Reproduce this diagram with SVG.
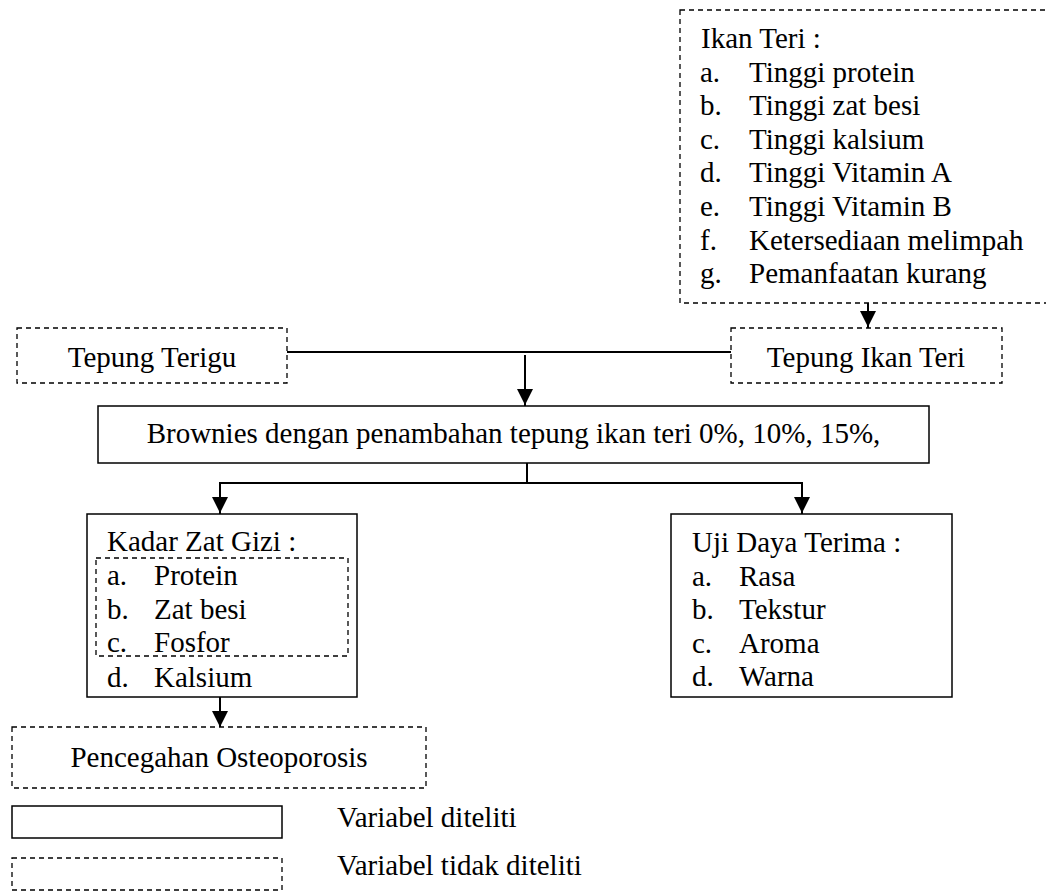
<svg xmlns="http://www.w3.org/2000/svg" width="1046" height="891" viewBox="0 0 1046 891">
<style>
text{font-family:"Liberation Serif","Times New Roman",serif;font-size:29px;fill:#000}
.solid{fill:#fff;stroke:#000;stroke-width:1.5}
.dash{fill:none;stroke:#000;stroke-width:1.3;stroke-dasharray:5 4}
.dashw{fill:#fff;stroke:#000;stroke-width:1.3;stroke-dasharray:5 4}
.ln{fill:none;stroke:#000;stroke-width:2;stroke-linecap:square}
.mid{text-anchor:middle}
</style>
<defs>
<marker id="ah" markerUnits="userSpaceOnUse" markerWidth="16" markerHeight="16" viewBox="0 0 16 16" refX="16" refY="8" orient="auto">
<path d="M0,0 L16,8 L0,16 Z" fill="#000"/>
</marker>
</defs>
<rect width="1046" height="891" fill="#fff"/>
<g id="connectors">
<line class="ln" x1="868" y1="304" x2="868" y2="327" marker-end="url(#ah)"/>
<line class="ln" x1="288" y1="352" x2="730" y2="352"/>
<line class="ln" x1="525" y1="356" x2="525" y2="405" marker-end="url(#ah)"/>
<line class="ln" x1="527" y1="464" x2="527" y2="483"/>
<line class="ln" x1="220" y1="483" x2="802" y2="483"/>
<line class="ln" x1="220" y1="483" x2="220" y2="513" marker-end="url(#ah)"/>
<line class="ln" x1="802" y1="483" x2="802" y2="513" marker-end="url(#ah)"/>
<line class="ln" x1="220" y1="698" x2="220" y2="727" marker-end="url(#ah)"/>
</g>
<g id="ikan-teri">
<rect class="dashw" x="680" y="10" width="380" height="293"/>
<text x="701" y="48">Ikan Teri :</text>
<text x="700" y="81.6">a.</text><text x="749" y="81.6">Tinggi protein</text>
<text x="700" y="115.2">b.</text><text x="749" y="115.2">Tinggi zat besi</text>
<text x="700" y="148.8">c.</text><text x="749" y="148.8">Tinggi kalsium</text>
<text x="700" y="182.4">d.</text><text x="749" y="182.4">Tinggi Vitamin A</text>
<text x="700" y="216">e.</text><text x="749" y="216">Tinggi Vitamin B</text>
<text x="700" y="249.6">f.</text><text x="749" y="249.6">Ketersediaan melimpah</text>
<text x="700" y="283.2">g.</text><text x="749" y="283.2">Pemanfaatan kurang</text>
</g>
<g id="tepung-terigu">
<rect class="dashw" x="17" y="328" width="270" height="55"/>
<text class="mid" x="152" y="367">Tepung Terigu</text>
</g>
<g id="tepung-ikan-teri">
<rect class="dashw" x="731" y="328" width="271" height="55"/>
<text class="mid" x="866" y="367">Tepung Ikan Teri</text>
</g>
<g id="brownies">
<rect class="solid" x="98" y="406" width="831" height="57"/>
<text class="mid" x="513.5" y="443">Brownies dengan penambahan tepung ikan teri 0%, 10%, 15%,</text>
</g>
<g id="kadar-zat-gizi">
<rect class="solid" x="87" y="514" width="270" height="183"/>
<rect class="dash" x="96" y="558" width="252" height="98"/>
<text x="107" y="551">Kadar Zat Gizi :</text>
<text x="107" y="585">a.</text><text x="154" y="585">Protein</text>
<text x="107" y="618.5">b.</text><text x="154" y="618.5">Zat besi</text>
<text x="107" y="652">c.</text><text x="154" y="652">Fosfor</text>
<text x="107" y="686.5">d.</text><text x="154" y="686.5">Kalsium</text>
</g>
<g id="uji-daya-terima">
<rect class="solid" x="671" y="514" width="281" height="183"/>
<text x="692" y="552">Uji Daya Terima :</text>
<text x="692" y="585.6">a.</text><text x="739" y="585.6">Rasa</text>
<text x="692" y="619.2">b.</text><text x="739" y="619.2">Tekstur</text>
<text x="692" y="652.8">c.</text><text x="739" y="652.8">Aroma</text>
<text x="692" y="686.4">d.</text><text x="739" y="686.4">Warna</text>
</g>
<g id="pencegahan">
<rect class="dashw" x="12" y="727" width="414" height="61"/>
<text class="mid" x="219" y="767">Pencegahan Osteoporosis</text>
</g>
<g id="legend">
<rect class="solid" x="12" y="806" width="270" height="32"/>
<text x="337" y="827">Variabel diteliti</text>
<rect class="dashw" x="12" y="858" width="270" height="32"/>
<text x="337" y="875">Variabel tidak diteliti</text>
</g>
</svg>
